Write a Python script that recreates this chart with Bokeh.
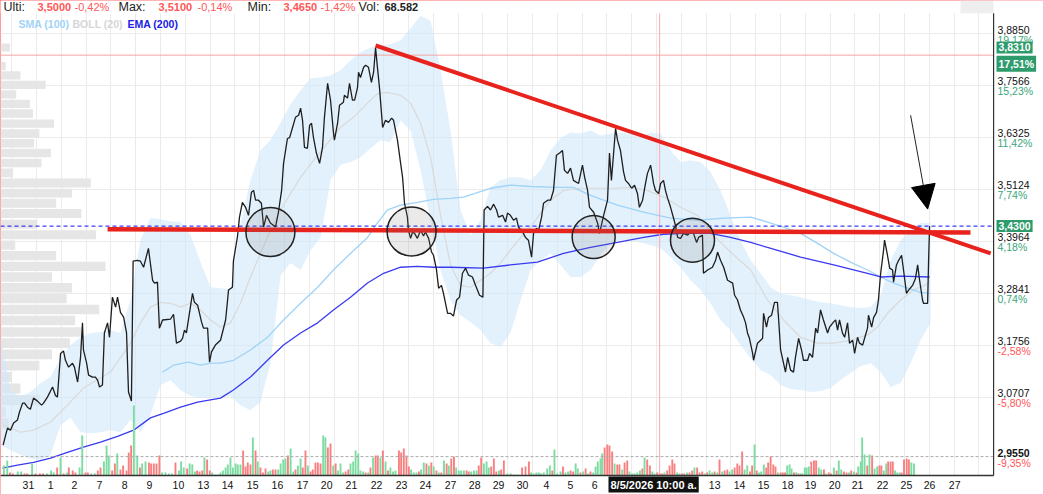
import numpy as np
from bokeh.plotting import figure
from bokeh.models import Range1d, FixedTicker, Label, Arrow, NormalHead, Grid, LinearScale
from bokeh.core.properties import value
from bokeh.embed import file_html
from bokeh.resources import INLINE

FONT = "Liberation Sans"

# ---------------- data (x = trading-session index, y = price) ----------------
day_ticks = [0.08, 0.99, 1.97, 3.00, 4.03, 5.05, 6.24, 7.27, 8.26, 9.29, 10.31, 11.34, 12.33,
             13.35, 14.38, 15.41, 16.39, 17.42, 18.41, 19.39, 20.38, 21.36, 22.35, 23.34,
             24.32, 25.31, 26.34, 27.32, 28.27, 29.29, 30.28, 31.27, 32.21, 33.20, 34.14,
             35.17, 36.15, 37.10, 38.13]
day_labels = ["31", "1", "2", "7", "8", "9", "10", "13", "14", "15", "16", "17", "20", "21",
              "22", "23", "24", "27", "28", "29", "30", "4", "5", "6", "7", "8", "11", "12",
              "13", "14", "15", "18", "19", "20", "21", "22", "25", "26", "27"]

price_ticks = [3.8850, 3.7566, 3.6325, 3.5124, 3.3964, 3.2841, 3.1756, 3.0707]
price_tick_labels = ["3,8850", "3,7566", "3,6325", "3,5124", "3,3964", "3,2841", "3,1756",
                     "3,0707"]
pct_labels = ["19,17%", "15,23%", "11,42%", "7,74%", "4,18%", "0,74%", "-2,58%", "-5,80%"]
low_price, low_label, low_pct = 2.9550, "2,9550", "-9,35%"

price_pts = [(-0.96,2.977),(-0.86,2.996),(-0.78,3.010),(-0.66,3.006),(-0.53,3.020),(-0.37,3.026),
 (-0.29,3.041),(-0.16,3.059),(-0.08,3.059),(0.04,3.051),(0.16,3.047),(0.29,3.069),(0.45,3.063),
 (0.62,3.055),(0.70,3.059),(0.86,3.071),(1.07,3.091),(1.19,3.074),(1.27,3.071),(1.40,3.159),
 (1.52,3.164),(1.60,3.145),(1.73,3.131),(1.89,3.139),(1.97,3.131),(2.10,3.101),(2.22,3.151),
 (2.30,3.222),(2.34,3.166),(2.47,3.139),(2.55,3.115),(2.71,3.111),(2.83,3.111),(2.92,3.105),
 (3.00,3.091),(3.12,3.095),(3.20,3.201),(3.33,3.222),(3.41,3.192),(3.53,3.276),(3.66,3.255),
 (3.74,3.276),(3.86,3.244),(3.99,3.234),(4.11,3.201),(4.19,3.081),(4.31,3.063),(4.38,3.353),
 (4.56,3.355),(4.68,3.353),(4.81,3.340),(5.01,3.381),(5.18,3.312),(5.26,3.306),(5.38,3.308),
 (5.46,3.211),(5.59,3.228),(5.92,3.230),(6.04,3.240),(6.16,3.180),(6.33,3.184),(6.41,3.190),
 (6.49,3.207),(6.57,3.201),(6.82,3.284),(6.90,3.265),(7.03,3.259),(7.19,3.224),(7.27,3.211),
 (7.44,3.211),(7.52,3.141),(7.60,3.162),(7.76,3.176),(7.97,3.186),(8.18,3.228),(8.30,3.291),
 (8.46,3.297),(8.50,3.353),(8.67,3.408),(8.75,3.450),(8.87,3.483),(9.00,3.472),(9.12,3.454),
 (9.24,3.506),(9.33,3.510),(9.41,3.488),(9.53,3.488),(9.65,3.481),(9.74,3.428),(9.86,3.454),
 (10.02,3.437),(10.23,3.428),(10.35,3.461),(10.48,3.510),(10.56,3.572),(10.72,3.630),
 (10.81,3.632),(10.93,3.656),(11.05,3.680),(11.18,3.685),(11.26,3.702),(11.34,3.673),
 (11.42,3.609),(11.54,3.607),(11.63,3.661),(11.71,3.666),(11.79,3.632),(11.91,3.596),
 (12.04,3.572),(12.16,3.609),(12.24,3.680),(12.37,3.762),(12.49,3.721),(12.61,3.644),
 (12.65,3.626),(12.78,3.666),(12.86,3.709),(13.02,3.716),(13.06,3.733),(13.19,3.726),
 (13.27,3.762),(13.39,3.721),(13.48,3.721),(13.60,3.752),(13.64,3.789),(13.72,3.776),
 (13.85,3.801),(13.93,3.806),(14.05,3.801),(14.17,3.764),(14.26,3.789),(14.34,3.850),
 (14.42,3.799),(14.50,3.752),(14.63,3.656),(14.75,3.673),(14.87,3.668),(15.00,3.678),
 (15.08,3.673),(15.24,3.626),(15.37,3.572),(15.45,3.540),(15.53,3.481),(15.65,3.450),
 (15.69,3.421),(15.78,3.403),(15.86,3.417),(15.94,3.414),(16.06,3.403),(16.19,3.421),
 (16.31,3.408),(16.39,3.417),(16.52,3.403),(16.64,3.373),(16.72,3.366),(16.84,3.336),
 (16.93,3.295),(17.05,3.301),(17.13,3.284),(17.30,3.242),(17.42,3.242),(17.54,3.236),
 (17.67,3.270),(17.79,3.276),(17.91,3.327),(18.04,3.338),(18.16,3.323),(18.32,3.319),
 (18.45,3.301),(18.61,3.280),(18.75,3.276),(18.80,3.466),(18.94,3.474),(19.06,3.466),
 (19.19,3.479),(19.31,3.466),(19.39,3.450),(19.56,3.454),(19.68,3.439),(19.76,3.459),
 (19.88,3.454),(20.01,3.443),(20.13,3.448),(20.21,3.428),(20.38,3.417),(20.50,3.405),
 (20.62,3.399),(20.75,3.362),(20.83,3.414),(20.95,3.425),(21.04,3.421),(21.16,3.450),
 (21.24,3.481),(21.41,3.488),(21.53,3.488),(21.65,3.510),(21.77,3.591),(21.90,3.596),
 (22.02,3.602),(22.10,3.556),(22.23,3.549),(22.35,3.561),(22.47,3.533),(22.68,3.526),
 (22.84,3.568),(22.93,3.540),(23.05,3.510),(23.13,3.472),(23.30,3.461),(23.46,3.437),
 (23.54,3.414),(23.71,3.454),(23.87,3.488),(23.95,3.596),(24.03,3.533),(24.12,3.596),
 (24.20,3.654),(24.28,3.626),(24.40,3.602),(24.53,3.552),(24.61,3.533),(24.73,3.526),
 (24.86,3.515),(24.98,3.522),(25.10,3.503),(25.18,3.472),(25.31,3.488),(25.43,3.526),
 (25.51,3.549),(25.64,3.568),(25.76,3.526),(25.84,3.510),(25.97,3.503),(26.05,3.526),
 (26.17,3.533),(26.25,3.510),(26.34,3.492),(26.46,3.472),(26.58,3.448),(26.66,3.432),
 (26.75,3.405),(26.87,3.403),(26.99,3.414),(27.16,3.410),(27.28,3.417),(27.40,3.414),
 (27.53,3.394),(27.61,3.405),(27.77,3.410),(27.81,3.327),(27.98,3.334),(28.18,3.340),
 (28.31,3.355),(28.39,3.373),(28.51,3.355),(28.64,3.340),(28.80,3.312),(29.01,3.306),
 (29.09,3.280),(29.21,3.270),(29.33,3.249),(29.46,3.234),(29.54,3.222),(29.62,3.201),
 (29.70,3.190),(29.83,3.159),(29.87,3.145),(30.03,3.180),(30.16,3.186),(30.24,3.190),
 (30.28,3.242),(30.40,3.213),(30.48,3.233),(30.61,3.238),(30.73,3.265),(30.85,3.265),
 (30.90,3.228),(30.98,3.166),(31.10,3.139),(31.18,3.121),(31.27,3.151),(31.39,3.125),
 (31.51,3.121),(31.59,3.151),(31.72,3.190),(31.84,3.166),(31.92,3.145),(32.09,3.145),
 (32.17,3.159),(32.29,3.151),(32.42,3.211),(32.50,3.201),(32.62,3.249),(32.74,3.228),
 (32.91,3.201),(32.99,3.213),(33.16,3.224),(33.24,3.228),(33.32,3.207),(33.40,3.228),
 (33.52,3.201),(33.61,3.192),(33.73,3.222),(33.81,3.180),(33.94,3.186),(34.02,3.159),
 (34.14,3.192),(34.22,3.180),(34.35,3.176),(34.43,3.190),(34.55,3.211),(34.59,3.238),
 (34.72,3.213),(34.80,3.233),(34.92,3.244),(35.00,3.270),(35.09,3.327),(35.21,3.377),
 (35.25,3.399),(35.37,3.366),(35.46,3.338),(35.58,3.334),(35.62,3.308),(35.74,3.345),
 (35.83,3.355),(35.95,3.366),(36.03,3.334),(36.15,3.284),(36.24,3.291),(36.40,3.301),
 (36.52,3.316),(36.61,3.345),(36.69,3.312),(36.81,3.270),(36.85,3.263),(37.02,3.263),
 (37.06,3.355),(37.10,3.430)]

sma100_pts = [(5.59,3.121),(6.04,3.135),(6.66,3.141),(7.15,3.135),(7.56,3.139),(7.97,3.139),
 (8.50,3.145),(9.20,3.166),(9.90,3.192),(10.56,3.228),(11.26,3.263),(11.96,3.297),(12.61,3.334),
 (13.31,3.370),(14.01,3.405),(14.42,3.437),(14.83,3.466),(15.37,3.477),(16.06,3.483),
 (16.72,3.490),(17.42,3.492),(17.95,3.495),(19.06,3.515),(19.88,3.522),(20.71,3.519),
 (21.82,3.517),(22.47,3.517),(23.17,3.499),(24.28,3.477),(25.35,3.461),(26.46,3.448),
 (27.57,3.443),(28.64,3.448),(29.75,3.450),(30.44,3.439),(31.10,3.428),(31.80,3.414),
 (32.50,3.392),(33.16,3.370),(33.85,3.351),(34.55,3.334),(35.09,3.319),(35.62,3.306),
 (36.20,3.295),(36.73,3.286),(37.10,3.284)]

ema200_pts = [(-0.99,2.933),(-0.37,2.939),(0.29,2.944),(0.99,2.952),(1.68,2.963),(2.34,2.973),
 (3.04,2.983),(3.74,2.994),(4.40,3.006),(5.09,3.030),(5.63,3.039),(6.33,3.051),(7.03,3.061),
 (7.97,3.069),(8.50,3.085),(9.20,3.111),(9.90,3.145),(10.56,3.176),(11.26,3.201),(11.96,3.222),
 (12.61,3.249),(13.31,3.276),(14.01,3.306),(14.67,3.327),(15.37,3.340),(16.06,3.342),
 (16.72,3.340),(17.42,3.340),(18.78,3.338),(19.88,3.345),(20.99,3.351),(22.06,3.370),
 (23.17,3.383),(24.28,3.394),(25.35,3.405),(26.17,3.412),(26.99,3.414),(28.10,3.414),
 (28.92,3.405),(29.75,3.394),(30.44,3.383),(31.80,3.362),(33.16,3.345),(34.55,3.327),
 (35.09,3.319),(35.91,3.321),(37.10,3.319)]

boll_mid_pts = [(-0.94,3.016),(-0.25,3.002),(0.29,3.006),(0.99,3.022),(1.68,3.055),(2.34,3.089),
 (3.04,3.109),(3.45,3.121),(4.27,3.180),(4.68,3.222),(5.09,3.255),(5.51,3.265),(5.92,3.263),
 (6.33,3.255),(6.74,3.263),(7.15,3.249),(7.56,3.228),(7.97,3.213),(8.38,3.222),(8.79,3.263),
 (9.20,3.319),(9.61,3.370),(10.02,3.421),(10.44,3.466),(10.85,3.503),(11.26,3.540),
 (11.79,3.579),(12.37,3.619),(12.90,3.656),(13.43,3.680),(14.01,3.714),(14.42,3.737),
 (14.83,3.740),(15.37,3.733),(15.78,3.714),(16.19,3.666),(16.60,3.586),(17.01,3.454),
 (17.42,3.345),(17.83,3.301),(18.24,3.297),(18.65,3.312),(19.06,3.327),(19.47,3.349),
 (19.88,3.377),(20.30,3.405),(20.71,3.428),(21.12,3.459),(21.53,3.488),(22.06,3.510),
 (22.76,3.515),(23.46,3.515),(24.12,3.515),(24.82,3.517),(25.51,3.510),(26.17,3.495),
 (26.87,3.472),(27.57,3.454),(28.22,3.410),(28.92,3.373),(29.75,3.334),(30.44,3.270),
 (31.10,3.228),(31.80,3.192),(32.50,3.180),(33.16,3.180),(33.85,3.186),(34.55,3.197),
 (34.96,3.213),(35.37,3.242),(35.91,3.270),(36.44,3.291),(37.10,3.306)]

# (t, lower band, upper band)
boll_band = [(-1.07,2.977,3.196),(-0.66,2.967,3.085),(-0.25,2.958,3.071),(0.16,2.952,3.081),
 (0.58,2.948,3.099),(0.99,2.958,3.111),(1.40,3.016,3.149),(1.81,3.030,3.176),(2.22,3.002,3.192),
 (2.63,3.000,3.201),(3.04,3.002,3.203),(3.45,3.006,3.207),(3.86,3.002,3.201),(4.27,3.026,3.270),
 (4.68,3.002,3.399),(5.09,3.036,3.448),(5.51,3.095,3.445),(5.92,3.105,3.441),(6.33,3.085,3.439),
 (6.74,3.073,3.410),(7.15,3.069,3.351),(7.56,3.069,3.297),(7.97,3.069,3.295),(8.38,3.073,3.293),
 (8.79,3.055,3.432),(9.20,3.045,3.533),(9.61,3.061,3.602),(10.02,3.139,3.626),(10.44,3.323,3.668),
 (10.85,3.349,3.711),(11.26,3.334,3.745),(11.67,3.377,3.774),(12.08,3.405,3.776),
 (12.49,3.533,3.781),(12.90,3.568,3.794),(13.31,3.575,3.818),(13.72,3.586,3.838),
 (14.13,3.607,3.850),(14.54,3.626,3.855),(14.95,3.621,3.858),(15.37,3.673,3.868),
 (15.78,3.649,3.898),(16.19,3.556,3.930),(16.60,3.443,3.917),(17.01,3.334,3.794),
 (17.42,3.270,3.649),(17.83,3.238,3.466),(18.24,3.224,3.410),(18.65,3.207,3.443),
 (19.06,3.180,3.517),(19.47,3.172,3.533),(19.88,3.201,3.540),(20.30,3.270,3.540),
 (20.71,3.334,3.533),(21.12,3.355,3.556),(21.53,3.370,3.602),(21.94,3.345,3.632),
 (22.35,3.319,3.644),(22.76,3.319,3.642),(23.17,3.334,3.649),(23.58,3.366,3.637),
 (23.99,3.392,3.642),(24.40,3.399,3.644),(24.82,3.399,3.642),(25.23,3.394,3.632),
 (25.64,3.388,3.644),(26.05,3.381,3.642),(26.46,3.362,3.602),(26.87,3.340,3.575),
 (27.28,3.312,3.579),(27.69,3.291,3.575),(28.10,3.263,3.552),(28.51,3.228,3.510),
 (28.92,3.207,3.454),(29.33,3.176,3.399),(29.75,3.149,3.355),(30.16,3.125,3.327),
 (30.57,3.115,3.297),(30.98,3.095,3.284),(31.39,3.087,3.280),(31.80,3.085,3.276),
 (32.21,3.081,3.270),(32.62,3.083,3.265),(33.03,3.089,3.263),(33.44,3.105,3.259),
 (33.85,3.119,3.255),(34.26,3.133,3.253),(34.68,3.139,3.255),(35.09,3.121,3.280),
 (35.50,3.091,3.355),(35.91,3.099,3.399),(36.32,3.139,3.421),(36.73,3.186,3.437),
 (37.14,3.222,3.437)]

# volume bars: session time and volume (positive = up bar, negative = down bar), thousands
vol_t = [-0.93,-0.79,-0.68,-0.56,-0.36,-0.22,-0.08,0.03,0.23,0.37,
 0.55,0.68,0.85,1.01,1.12,1.26,1.40,1.53,1.67,1.74,
 1.90,2.01,2.18,2.29,2.42,2.52,2.66,2.81,2.93,3.04,
 3.18,3.29,3.38,3.52,3.63,3.73,3.86,3.97,4.11,4.20,
 4.30,4.41,4.55,4.66,4.75,4.89,5.03,5.12,5.23,5.34,
 5.46,5.57,5.71,5.85,5.98,6.12,6.26,6.35,6.46,6.60,
 6.70,6.81,6.92,7.01,7.11,7.22,7.31,7.42,7.53,7.63,
 7.76,7.86,7.97,8.07,8.18,8.27,8.38,8.48,8.59,8.68,
 8.79,8.90,9.00,9.09,9.20,9.30,9.41,9.50,9.61,9.71,
 9.82,9.93,10.02,10.12,10.23,10.34,10.44,10.55,10.64,10.74,
 10.85,10.96,11.05,11.15,11.26,11.35,11.46,11.56,11.67,11.76,
 11.87,11.97,12.08,12.19,12.28,12.38,12.49,12.60,12.70,12.80,
 12.90,13.01,13.11,13.22,13.31,13.42,13.52,13.63,13.72,13.83,
 13.93,14.04,14.13,14.24,14.34,14.43,14.54,14.64,14.75,14.85,
 14.95,15.06,15.16,15.30,15.39,15.50,15.61,15.71,15.80,15.91,
 16.02,16.12,16.21,16.32,16.43,16.53,16.63,16.73,16.84,16.94,
 17.04,17.15,17.26,17.35,17.45,17.56,17.65,17.76,17.86,17.97,
 18.08,18.17,18.27,18.38,18.49,18.58,18.68,18.79,18.90,18.99,
 19.09,19.20,19.30,19.41,19.50,
 19.61,19.75,19.89,20.02,20.16,20.36,20.50,20.64,20.73,20.84,
 20.95,21.05,21.14,21.25,21.39,21.50,21.60,21.69,21.80,21.94,
 22.04,22.14,22.25,22.35,22.46,22.56,22.65,22.76,22.87,22.97,
 23.06,23.17,23.28,23.38,23.47,23.58,23.65,23.75,23.86,23.95,
 24.06,24.16,24.27,24.36,24.47,24.57,24.68,24.77,24.88,24.98,
 25.09,25.20,25.30,25.39,25.50,25.61,25.71,25.80,25.91,26.02,
 26.12,26.21,26.32,26.42,26.53,26.62,26.73,26.83,26.94,27.03,
 27.14,27.24,27.35,27.44,27.55,27.65,27.76,27.86,27.96,28.06,
 28.17,28.27,28.38,28.47,28.58,28.68,28.79,28.88,28.99,29.09,
 29.20,29.29,29.40,29.50,29.61,29.72,29.81,29.91,30.00,30.09,
 30.18,30.29,30.39,30.47,30.57,30.68,30.77,30.87,30.98,31.07,
 31.16,31.25,31.35,31.43,31.53,31.62,31.71,31.80,31.87,31.97,
 32.05,32.14,32.24,32.35,32.44,32.55,32.65,32.76,32.85,32.96,
 33.05,33.17,33.28,33.37,33.47,33.58,33.69,33.79,33.88,33.99,
 34.10,34.17,34.27,34.33,34.43,34.54,34.63,34.74,34.84,34.95,
 35.04,35.12,35.22,35.32,35.40,35.50,35.59,35.68,35.77,35.87,
 35.95,36.05,36.16,36.25,36.35,36.46]
vol_signed = [10,15,-3,-2,4,4,-2,-2,12,-2,
 -2,-2,2,5,3,-8,18,-2,3,-8,
 -5,-3,8,40,-3,-3,2,2,-5,-8,
 14,30,20,-5,-12,22,-6,-10,-5,-23,
 -30,70,20,-8,12,14,-13,-12,-12,-12,
 -20,3,3,2,2,-13,5,14,8,-7,
 12,11,4,-5,-4,-5,18,-16,-5,3,
 1,1,3,5,8,11,18,8,12,11,
 11,-25,-9,-13,-11,38,-25,14,-8,-3,
 -7,4,5,-6,-6,6,12,16,17,-20,
 27,4,-6,10,17,-8,-25,10,-4,-6,
 -13,-13,-12,40,38,-28,-32,10,-12,5,
 12,3,-4,-6,12,14,25,22,5,4,
 -3,3,-8,18,-20,-20,18,-25,14,-5,
 8,4,5,-25,-23,-27,-20,-9,6,3,
 3,-4,6,13,-12,10,-13,9,-5,3,
 -3,15,-12,10,-17,-19,8,5,5,5,
 -5,-4,4,5,5,-10,-18,12,14,8,
 -9,-17,-4,5,-6,
 -15,2,2,1,1,-8,-9,-14,3,2,
 3,3,2,3,7,10,-5,26,2,4,
 -9,3,4,-5,-4,12,7,-3,4,-7,
 2,-4,3,9,14,17,22,-28,-31,-30,
 -24,12,-11,-11,6,-13,-15,4,2,2,
 3,5,-7,18,-16,-10,4,2,-3,-2,
 -2,3,-5,-10,-16,-12,3,2,-2,-2,
 3,-3,-5,8,-8,-3,-4,2,-3,5,
 3,-4,3,-16,4,-5,-6,4,6,-8,
 -12,-10,-24,6,10,-4,-10,31,-5,3,
 4,11,-8,-13,-19,-11,-9,3,-3,-3,
 -3,10,11,7,-3,3,-2,2,2,8,
 8,9,-14,-15,-15,8,6,-6,2,-3,
 -2,8,-5,15,6,-4,-3,3,-5,4,
 -3,9,14,38,21,-10,21,-20,7,9,
 -10,-10,5,12,-14,-14,-14,5,3,3,
 -3,-16,-17,-16,13,12]

# volume-by-price profile
vp_price = [3.850, 3.804, 3.781, 3.758, 3.735, 3.712, 3.689, 3.665, 3.642, 3.619, 3.596, 3.573,
            3.550, 3.527, 3.504, 3.481, 3.458, 3.434, 3.411, 3.388, 3.365, 3.342, 3.319, 3.296,
            3.273, 3.250, 3.227, 3.203, 3.180, 3.157, 3.134, 3.111, 3.088, 3.065, 3.042, 3.019]
vp_volume = [9, 5, 19, 43, 15, 28, 31, 51, 37, 32, 48, 39, 12, 86, 68, 53, 77, 35, 91, 14, 53,
             100, 49, 68, 63, 94, 71, 77, 66, 49, 37, 11, 19, 37, 5, 8]

# drawn annotations
support_t = [3.33, 38.78]
support_p = [3.423, 3.416]
trend_t = [14.34, 39.61]
trend_p = [3.855, 3.370]
circle_t = [10.02, 15.82, 23.30, 27.36]
circle_p = [3.417, 3.418, 3.406, 3.399]
circle_d = [49, 49, 43, 44]
arrow_from = (36.32, 3.685)
arrow_to = (37.02, 3.468)
last_price = 3.4300
high_price = 3.8310
cursor_t = 26.01

# ---------------- layout constants ----------------
X0, XR, X1 = -1.068, 39.73, 41.78          # chart left, chart right (scale line), canvas right
PLO, PHI = 2.919, 3.936                     # price range of the chart pane
YB, YT = 2.8835, 3.9688                     # canvas bottom / top in price units
AXIS_Y = 2.902                              # row of date labels
HEAD_Y = 3.951                              # header row
LEG_Y = 3.910                               # indicator legend row
RX = 39.89                                  # right label column

p = figure(width=1043, height=494, y_axis_type="log",
           x_range=Range1d(X0, X1), y_range=Range1d(YB, YT),
           x_axis_location=None, y_axis_location=None,
           output_backend="svg", toolbar_location=None,
           min_border=0, min_border_left=0, min_border_right=0, min_border_top=0,
           min_border_bottom=0, background_fill_color="white", border_fill_color="white",
           outline_line_color=None)
p.grid.visible = False
p.styles = {"outline": "1px solid #ff3b3b", "outline-offset": "-1px"}
p.extra_x_ranges = {"vp": Range1d(0, 993)}
p.extra_y_ranges = {"vol": Range1d(-19, 475)}
p.extra_y_scales = {"vol": LinearScale()}

grid_t = [0.411 + 1.0189 * k for k in range(-1, 40)]
p.add_layout(Grid(dimension=0, ticker=FixedTicker(ticks=grid_t), grid_line_color="#ebebeb"))
p.add_layout(Grid(dimension=1, ticker=FixedTicker(ticks=price_ticks),
                  grid_line_color="#ebebeb"))

# blank margins (header strip, date strip, price-scale strip)
p.quad(left=[X0, X0, XR], right=[X1, X1, X1], bottom=[PHI, YB, YB], top=[YT, PLO, YT],
       fill_color="white", line_color=None)
p.quad(left=[38.37], right=[XR], bottom=[PHI], top=[YT], fill_color="#eeeeee", line_color=None)

# volume profile
p.hbar(y=vp_price, left=0, right=vp_volume, height=0.020, x_range_name="vp",
       fill_color="#e6e6e6", line_color=None)

# Bollinger band and averages
p.varea(x=[b[0] for b in boll_band], y1=[b[1] for b in boll_band], y2=[b[2] for b in boll_band],
        fill_color="#cfe8fa", fill_alpha=0.6)
p.line([a for a, b in boll_mid_pts], [b for a, b in boll_mid_pts], line_color="#d9d9d9",
       line_width=1.2)
p.line([a for a, b in sma100_pts], [b for a, b in sma100_pts], line_color="#9fd3f7",
       line_width=1.3)
p.line([a for a, b in ema200_pts], [b for a, b in ema200_pts], line_color="#3a3af0",
       line_width=1.3)

# volume bars
vol_h = [abs(v) for v in vol_signed]
vol_c = ["#7ddca2" if v > 0 else "#f88080" for v in vol_signed]
p.vbar(x=vol_t, top=vol_h, bottom=0, width=0.078, fill_color=vol_c, line_color=None,
       y_range_name="vol")

# horizontal / vertical markers
p.line([X0, XR], [low_price, low_price], line_color="#aaaaaa", line_dash="3 2", line_width=1)
p.line([X0, XR], [high_price, high_price], line_color="#f4a3a3", line_width=1)
p.line([cursor_t, cursor_t], [PLO, PHI], line_color="#ffa8a8", line_width=1)
p.line([X0, XR], [last_price, last_price], line_color="#1010ee", line_dash="4 3", line_width=1)

# price
p.line([a for a, b in price_pts], [b for a, b in price_pts], line_color="#1e1e1e",
       line_width=1.3)

# drawings
p.line(support_t, support_p, line_color="#e8221c", line_width=4.5)
p.line(trend_t, trend_p, line_color="#e8221c", line_width=4)
p.scatter(x=circle_t, y=circle_p, size=circle_d, marker="circle", fill_color="#707070",
          fill_alpha=0.15, line_color="#222222", line_width=1.5)
p.add_layout(Arrow(end=NormalHead(size=24, fill_color="black", line_color="black"),
                   x_start=arrow_from[0], y_start=arrow_from[1],
                   x_end=arrow_to[0], y_end=arrow_to[1], line_color="#222222", line_width=1))

# scale frame lines
p.line([XR, XR], [PLO, PHI], line_color="#333333", line_width=1.2)
p.line([X0, XR], [PLO, PLO], line_color="#333333", line_width=1.5)

# price scale labels
GREEN_T = "#3aa67a"
RED_T = "#ff5757"
p.text(x=[RX] * len(price_ticks), y=price_ticks, text=price_tick_labels,
       text_font=value(FONT), text_font_size="10.5px", text_color="#111111",
       text_align="left", text_baseline="bottom")
p.text(x=[RX] * len(price_ticks), y=price_ticks, text=pct_labels,
       text_font=value(FONT), text_font_size="10.5px",
       text_color=[RED_T if s.startswith("-") else GREEN_T for s in pct_labels],
       text_align="left", text_baseline="top")
p.text(x=[RX], y=[low_price], text=[low_label], text_font=value(FONT),
       text_font_size="10.5px", text_font_style="bold", text_color="#111111",
       text_align="left", text_baseline="bottom")
p.text(x=[RX], y=[low_price], text=[low_pct], text_font=value(FONT),
       text_font_size="10.5px", text_color=RED_T, text_align="left", text_baseline="top")

# date labels
p.text(x=day_ticks, y=[AXIS_Y] * len(day_ticks), text=day_labels, text_font=value(FONT),
       text_font_size="10.5px", text_color="#111111", text_align="center",
       text_baseline="middle")


def lab(x, y, text, color, size="10.5px", style="normal", align="left", baseline="middle",
        bg=None, pad=0):
    kw = dict(x=x, y=y, x_units="screen", y_units="data", text=text, text_color=color,
              text_font=FONT, text_font_size=size, text_font_style=style, text_align=align,
              text_baseline=baseline)
    if bg is not None:
        kw.update(background_fill_color=bg, padding=pad)
    p.add_layout(Label(**kw))


lab(996, 3.850, "3,8310", "white", style="bold", bg="#2e9b6c", pad=2)
lab(996, 3.810, "17,51%", "white", style="bold", bg="#2e9b6c", pad=2)
lab(996, last_price, "3,4300", "white", style="bold", bg="#2e9b6c", pad=2)

# header line
lab(3, HEAD_Y, "Ulti:", "#222222", size="12.5px")
lab(37, HEAD_Y, "3,5000", RED_T, size="11px", style="bold")
lab(74, HEAD_Y, "-0,42%", RED_T, size="11px")
lab(118, HEAD_Y, "Max:", "#222222", size="12.5px")
lab(158, HEAD_Y, "3,5100", RED_T, size="11px", style="bold")
lab(197, HEAD_Y, "-0,14%", RED_T, size="11px")
lab(247, HEAD_Y, "Min:", "#222222", size="12.5px")
lab(283, HEAD_Y, "3,4650", RED_T, size="11px", style="bold")
lab(320, HEAD_Y, "-1,42%", RED_T, size="11px")
lab(358, HEAD_Y, "Vol:", "#222222", size="12.5px")
lab(384, HEAD_Y, "68.582", "#222222", size="11px", style="bold")

lab(18, LEG_Y, "SMA (100)", "#9fd3f7", style="bold")
lab(72, LEG_Y, "BOLL (20)", "#d6d6d6", style="bold")
lab(127, LEG_Y, "EMA (200)", "#2020e6", style="bold")

# cursor date box
lab(608, AXIS_Y, "8/5/2026 10:00 a.", "white", size="11px", style="bold", bg="#111111", pad=2)

open("out.html", "w").write(file_html(p, INLINE))
